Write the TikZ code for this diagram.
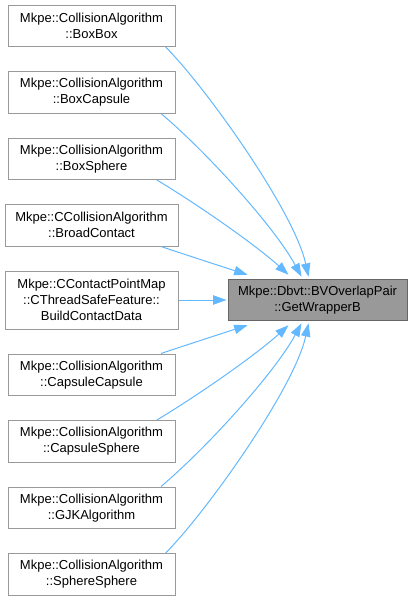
\documentclass[tikz,border=0pt]{standalone}
\usepackage{fontspec}
\setmainfont{Liberation Sans}
\usetikzlibrary{arrows.meta,positioning}
\definecolor{edgeblue}{HTML}{63B8FF}
\definecolor{nodegray}{HTML}{999999}
\definecolor{framegray}{HTML}{666666}

\begin{document}
\begin{tikzpicture}[x=0.75pt,y=-0.75pt,
  caller/.style={rectangle,draw=nodegray,fill=white,line width=0.75pt,
                 minimum width=125.25pt,minimum height=31.125pt,align=center,
                 inner sep=2pt,font=\fontsize{9.75}{12}\selectfont},
  callee/.style={caller,draw=framegray,fill=nodegray,minimum width=134.25pt},
  edge/.style={draw=edgeblue,line width=0.75pt,
               -{Triangle[length=10pt,width=7pt,fill=edgeblue]}}]

\useasboundingbox (0,0) rectangle (411,603);

\node[caller] (c1) at (91.5,25.75) {Mkpe::CollisionAlgorithm\\::BoxBox};
\node[caller,below=18pt of c1] (c2) {Mkpe::CollisionAlgorithm\\::BoxCapsule};
\node[caller,below=18pt of c2] (c3) {Mkpe::CollisionAlgorithm\\::BoxSphere};
\node[caller,minimum width=129.75pt,below=18pt of c3] (c4)
  {Mkpe::CCollisionAlgorithm\\::BroadContact};
\node[caller,minimum width=129.75pt,minimum height=43.5pt,below=18pt of c4] (c5)
  {Mkpe::CContactPointMap\\::CThreadSafeFeature::\\BuildContactData};
\node[caller,below=18pt of c5] (c6) {Mkpe::CollisionAlgorithm\\::CapsuleCapsule};
\node[caller,below=18pt of c6] (c7) {Mkpe::CollisionAlgorithm\\::CapsuleSphere};
\node[caller,below=18pt of c7] (c8) {Mkpe::CollisionAlgorithm\\::GJKAlgorithm};
\node[caller,below=18pt of c8] (c9) {Mkpe::CollisionAlgorithm\\::SphereSphere};

\node[callee,right=36.75pt of c5] (wrapb) {Mkpe::Dbvt::BVOverlapPair\\::GetWrapperB};

\draw[edge] (c1.-16) .. controls +(40,40) and +(-14,-65) .. ([shift={(81,-2)}]wrapb.north west);
\draw[edge] (c2.-17) .. controls +(45,38) and +(-27,-50) .. ([shift={(74,-2)}]wrapb.north west);
\draw[edge] (c3.-18) .. controls +(40,24) and +(-33,-30) .. ([shift={(61,-4)}]wrapb.north west);
\draw[edge] (c4.-17) .. controls +(30,10) and +(-25,-8) .. ([shift={(20,-4)}]wrapb.north west);
\draw[edge] (c5) -- ([xshift=-0.75pt]wrapb.west);
\draw[edge] (c6.17) .. controls +(30,-10) and +(-25,8) .. ([shift={(20,4)}]wrapb.south west);
\draw[edge] (c7.18) .. controls +(40,-24) and +(-33,30) .. ([shift={(61,4)}]wrapb.south west);
\draw[edge] (c8.17) .. controls +(45,-38) and +(-27,50) .. ([shift={(74,2)}]wrapb.south west);
\draw[edge] (c9.16) .. controls +(40,-40) and +(-14,65) .. ([shift={(81,2)}]wrapb.south west);
\end{tikzpicture}
\end{document}
